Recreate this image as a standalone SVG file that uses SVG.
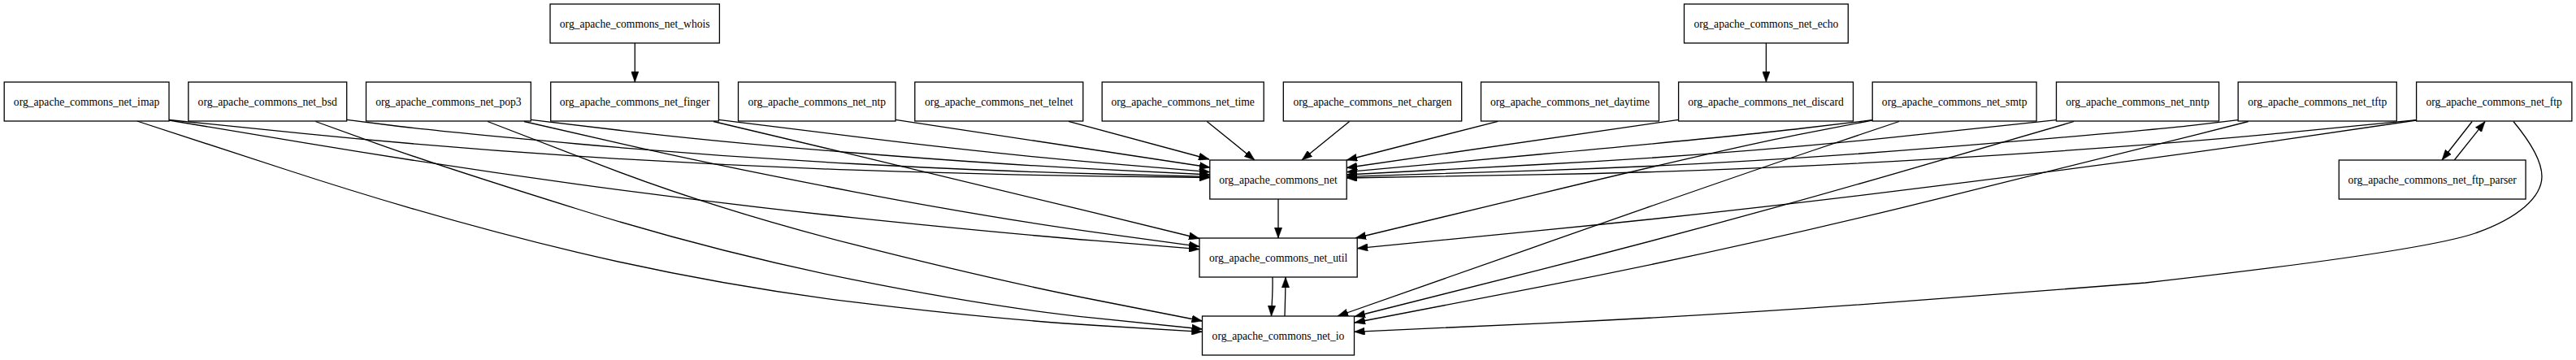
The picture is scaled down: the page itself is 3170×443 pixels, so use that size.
<svg xmlns="http://www.w3.org/2000/svg" width="3170" height="443" viewBox="0 0 3170 443">
<style>
.n rect{fill:#fff;stroke:#000;stroke-width:1.3}
.n text{font-family:"Liberation Serif","Times New Roman",serif;font-size:13.6px;text-anchor:middle;fill:#000}
.e path{fill:none;stroke:#000;stroke-width:1.3;stroke-linejoin:round;marker-end:url(#ah)}
</style>
<defs>
<marker id="ah" markerUnits="userSpaceOnUse" markerWidth="13" markerHeight="9.4" viewBox="0 0 13 9.4" refX="13" refY="4.7" orient="auto"><path d="M0,0 L13,4.7 L0,9.4 z" fill="#000" stroke="#000" stroke-width="0.5"/></marker>
</defs>
<rect width="3170" height="443" fill="#fff"/>
<g class="e" id="edges">
<path d="M208,147.5 L374,164.3 Q540,181 710,192.2 Q880,203.3 1050,209.2 Q1220,215 1354.5,216.8 L1489,218.5"/>
<path d="M208,148 L374,175.7 Q540,203.3 710,226.7 Q880,250 1050,267.9 Q1220,285.7 1348,296.2 L1476,306.7"/>
<path d="M168.7,149 L354.4,209.5 Q540,270 710,310.4 Q880,350.7 1050,371.7 Q1220,392.7 1349.8,400.5 L1479.5,408.3"/>
<path d="M426.7,147.3 L483.4,154.5 Q540,161.7 710,177 Q880,192.3 1050,201.5 Q1220,210.7 1354.5,214 L1489,217.3"/>
<path d="M388.3,149.5 L464.2,176.8 Q540,204 710,257 Q880,310 1050,344.2 Q1220,378.3 1349.8,391.7 L1479.5,405"/>
<path d="M653.3,147.3 L766.7,160.8 Q880,174.3 1050,188 Q1220,201.7 1354.5,208.4 L1489,215"/>
<path d="M645,149.5 L762.5,176.4 Q880,203.3 1050,235.8 Q1220,268.3 1348,285.8 L1476,303.3"/>
<path d="M600,149.5 L740,203.4 Q880,257.3 1050,300.7 Q1220,344 1349.8,369.5 L1479.5,395"/>
<path d="M884.4,147.3 L1052.2,168.2 Q1220,189 1354.5,200.4 L1489,211.7"/>
<path d="M878,149.5 L1049,190.1 Q1220,230.7 1348,262.1 L1476,293.5"/>
<path d="M1102,147.3 L1489,206"/>
<path d="M1315,149.3 L1488,196"/>
<path d="M1485.3,149.5 L1544,197"/>
<path d="M1660.6,149.5 L1602,197"/>
<path d="M1843.3,149.3 L1657.2,197"/>
<path d="M2065.6,147.3 L1657.2,206.5"/>
<path d="M2304.2,147.7 L2217.1,158 Q2130,168.3 1893.6,190 L1657.2,211.7"/>
<path d="M2304.2,148 L2217.1,164.9 Q2130,181.7 1899,237.4 L1668,293"/>
<path d="M2337,149.5 L2228.5,186 Q2120,222.5 1883,305.8 L1646,389"/>
<path d="M2530.5,147.7 L2330.3,168.9 Q2130,190 1893.6,202.5 L1657.2,215"/>
<path d="M2552.2,149.5 L2336.1,212.3 Q2120,275 1893.5,332.3 L1667,389.5"/>
<path d="M2754.2,147.7 L2697.1,154.4 Q2640,161 2385,181.7 Q2130,202.3 1893.6,209.8 L1657.2,217.3"/>
<path d="M2766.8,149.5 L2703.4,165.6 Q2640,181.7 2385,244.7 Q2130,307.7 1898.5,352.4 L1667,397"/>
<path d="M2973.6,147.7 L2806.8,163.9 Q2640,180 2385,195.4 Q2130,210.7 1893.6,214.9 L1657.2,219"/>
<path d="M2973.6,148 L2806.8,172.4 Q2640,196.7 2385,228.7 Q2130,260.7 1900.1,283.2 L1670.2,305.7"/>
<path d="M3093,149.5 C3110,170 3128,195 3128,217 C3128,242 3100,268 3046,287 C2990,306 2800,330 2640,348 L2385,367.7 Q2130,387.3 1898.3,397.8 L1666.5,408.3"/>
<path d="M3042.2,149.5 L3005,197"/>
<path d="M3020.3,197 L3058.1,149.5"/>
<path d="M781.3,53 L781.3,101"/>
<path d="M2173.4,53 L2173.4,101"/>
<path d="M1573,245 L1573,293"/>
<path d="M1566,341 C1566.5,360 1565,375 1564.5,389"/>
<path d="M1581,389 C1581.5,370 1582,355 1582,341"/>
</g>
<g class="n" id="whois"><rect x="677" y="5" width="208.4" height="48"/><text x="781.2" y="33.5">org_apache_commons_net_whois</text></g>
<g class="n" id="echo"><rect x="2072.5" y="5" width="201.8" height="48"/><text x="2173.4" y="33.5">org_apache_commons_net_echo</text></g>
<g class="n" id="imap"><rect x="5.2" y="101" width="202.8" height="48"/><text x="106.6" y="129.5">org_apache_commons_net_imap</text></g>
<g class="n" id="bsd"><rect x="231.8" y="101" width="194.9" height="48"/><text x="329.2" y="129.5">org_apache_commons_net_bsd</text></g>
<g class="n" id="pop3"><rect x="450.5" y="101" width="202.8" height="48"/><text x="551.9" y="129.5">org_apache_commons_net_pop3</text></g>
<g class="n" id="finger"><rect x="677.7" y="101" width="206.7" height="48"/><text x="781.1" y="129.5">org_apache_commons_net_finger</text></g>
<g class="n" id="ntp"><rect x="908.5" y="101" width="193.5" height="48"/><text x="1005.2" y="129.5">org_apache_commons_net_ntp</text></g>
<g class="n" id="telnet"><rect x="1125.8" y="101" width="207" height="48"/><text x="1229.3" y="129.5">org_apache_commons_net_telnet</text></g>
<g class="n" id="time"><rect x="1356.2" y="101" width="199" height="48"/><text x="1455.7" y="129.5">org_apache_commons_net_time</text></g>
<g class="n" id="chargen"><rect x="1579.3" y="101" width="219.4" height="48"/><text x="1689" y="129.5">org_apache_commons_net_chargen</text></g>
<g class="n" id="daytime"><rect x="1822.5" y="101" width="219" height="48"/><text x="1932" y="129.5">org_apache_commons_net_daytime</text></g>
<g class="n" id="discard"><rect x="2065.6" y="101" width="214.9" height="48"/><text x="2173" y="129.5">org_apache_commons_net_discard</text></g>
<g class="n" id="smtp"><rect x="2304.2" y="101" width="201.9" height="48"/><text x="2405.2" y="129.5">org_apache_commons_net_smtp</text></g>
<g class="n" id="nntp"><rect x="2530.5" y="101" width="200.1" height="48"/><text x="2630.5" y="129.5">org_apache_commons_net_nntp</text></g>
<g class="n" id="tftp"><rect x="2754.2" y="101" width="195.1" height="48"/><text x="2851.8" y="129.5">org_apache_commons_net_tftp</text></g>
<g class="n" id="ftp"><rect x="2973.6" y="101" width="191.3" height="48"/><text x="3069.2" y="129.5">org_apache_commons_net_ftp</text></g>
<g class="n" id="ftp_parser"><rect x="2878.3" y="197" width="229.8" height="48"/><text x="2993.2" y="225.5">org_apache_commons_net_ftp_parser</text></g>
<g class="n" id="net"><rect x="1488.8" y="197" width="168.4" height="48"/><text x="1573" y="225.5">org_apache_commons_net</text></g>
<g class="n" id="util"><rect x="1476" y="293" width="194.2" height="48"/><text x="1573.1" y="321.5">org_apache_commons_net_util</text></g>
<g class="n" id="io"><rect x="1479.5" y="389" width="187" height="48"/><text x="1573" y="417.5">org_apache_commons_net_io</text></g>
</svg>
